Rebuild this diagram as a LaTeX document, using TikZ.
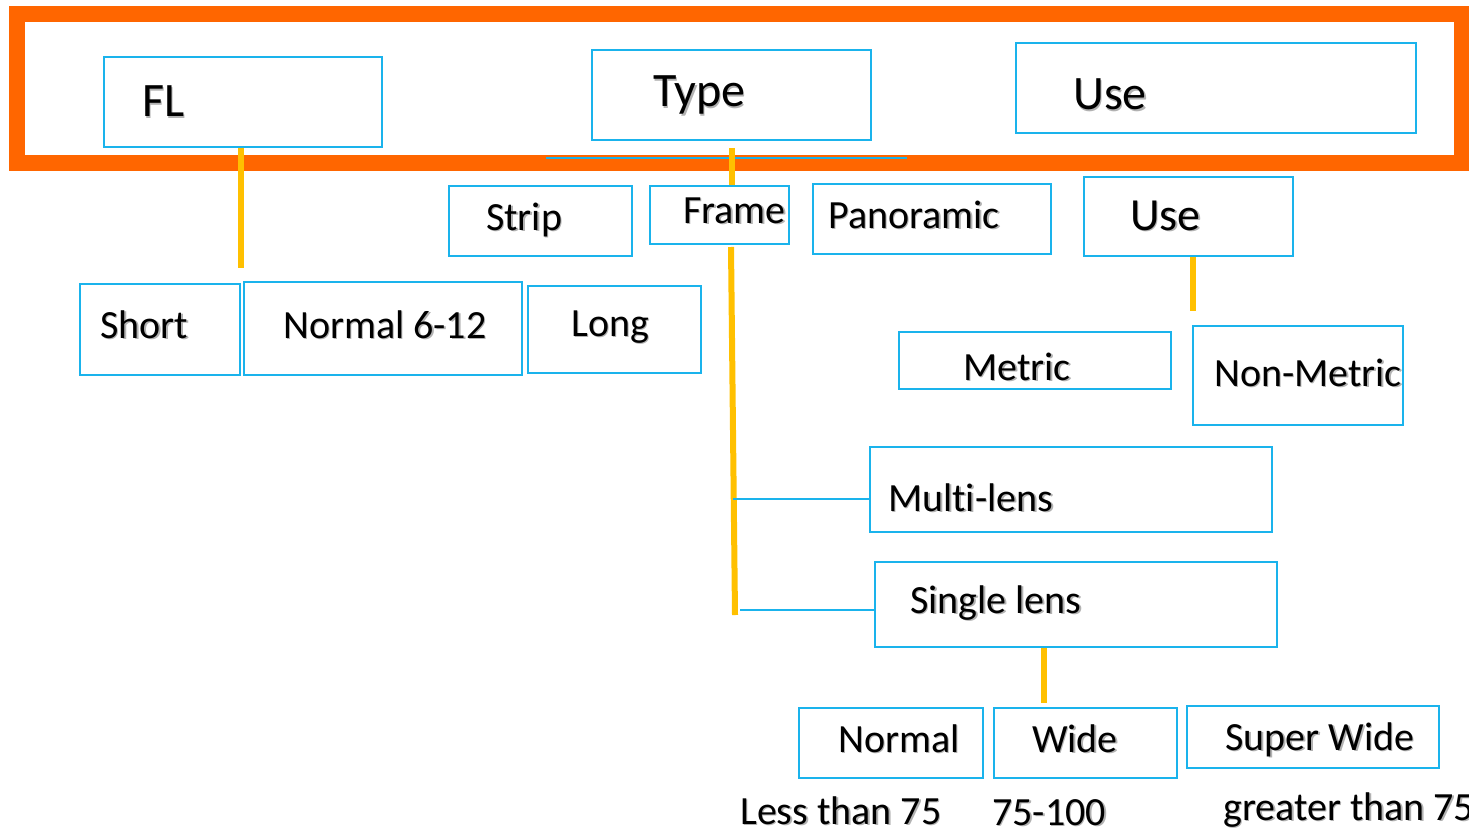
\documentclass[tikz,border=0pt]{standalone}
\usepackage{fontspec}
\setmainfont[Ligatures=NoCommon]{Carlito}
\definecolor{boxblue}{HTML}{1AB3EC}
\definecolor{frameorange}{HTML}{FF6600}
\definecolor{lineyellow}{HTML}{FFC000}
\newcommand\shd[1]{\leavevmode\rlap{\kern1.6pt\raisebox{-1.6pt}{\textcolor{black!30}{#1}}}#1}
\tikzset{
  box/.style={draw=boxblue, line width=2pt, inner sep=0pt},
  txt/.style={anchor=base west, inner sep=0pt, font=\fontsize{40}{40}\selectfont},
  bigtxt/.style={txt, font=\fontsize{48}{48}\selectfont},
  yline/.style={draw=lineyellow, line width=6pt},
  bline/.style={draw=boxblue, line width=2pt},
}
\newcommand\bx[5]{\node[box, minimum width=#4-#2, minimum height=#5-#3] (#1) at ({(#2+#4)/2},{(#3+#5)/2}) {};}
\begin{document}
\begin{tikzpicture}[x=1pt,y=-1pt]
\useasboundingbox (0,0) rectangle (1469,829);
% orange frame
\draw[frameorange, line width=16pt] (16.5,14) rectangle (1461.5,163);
% top boxes
\bx{fl}{104}{57}{382}{147}
\bx{type}{592}{50}{871}{140}
\bx{use}{1016}{43}{1416}{133}
\coordinate (tl1) at (546,158);
\coordinate (tl2) at (907,158);
\draw[bline] (tl1) -- (tl2);
% second row
\bx{strip}{449}{186}{632}{256}
\bx{frame}{650}{186}{789}{244}
\bx{pano}{813}{184}{1051}{254}
\bx{usetwo}{1084}{177}{1293}{256}
% third row
\bx{short}{80}{284}{240}{375}
\bx{normal}{244}{282}{522}{375}
\bx{long}{528}{286}{701}{373}
\bx{metric}{899}{332}{1171}{389}
\bx{nonmetric}{1193}{326}{1403}{425}
% lens
\bx{multi}{870}{447}{1272}{532}
\bx{single}{875}{562}{1277}{647}
% bottom
\bx{bnormal}{799}{708}{983}{778}
\bx{wide}{994}{708}{1177}{778}
\bx{superwide}{1187}{706}{1439}{768}
% connectors
\coordinate (flend) at (241,268);
\draw[yline] (fl.south -| flend) -- (flend);
\coordinate (typetop) at (732,148);
\draw[yline] (typetop) -- (typetop |- frame.north);
\coordinate (usetwoend) at (1193,311);
\draw[yline] (usetwo.south -| usetwoend) -- (usetwoend);
\coordinate (ftop) at (731,247);
\coordinate (fbot) at (735,615);
\draw[yline] (ftop) -- (fbot);
\coordinate (mj) at (733,499);
\draw[bline] (mj) -- (mj -| multi.west);
\coordinate (sj) at (740,610);
\draw[bline] (sj) -- (sj -| single.west);
\coordinate (wtop) at (1044,703);
\draw[yline] (single.south -| wtop) -- (wtop);
% texts
\node[bigtxt] (tfl) at (142,117) {\shd{FL}};
\node[bigtxt] (ttype) at (653,107) {\shd{Type}};
\node[bigtxt] (tuse) at (1073,110) {\shd{Use}};
\node[txt] (tstrip) at (486,230) {\shd{Strip}};
\node[txt] (tframe) at (683,223) {\shd{Frame}};
\node[txt] (tpano) at (828,228) {\shd{Panoramic}};
\node[bigtxt, font=\fontsize{46}{46}\selectfont] (tusetwo) at (1130,230) {\shd{Use}};
\node[txt] (tshort) at (100,338) {\shd{Short}};
\node[txt] (tnormal) at (283,338) {\shd{Normal 6-12}};
\node[txt] (tlong) at (571,336) {\shd{Long}};
\node[txt] (tmetric) at (963,380) {\shd{Metric}};
\node[txt] (tnonmetric) at (1214,386) {\shd{Non-Metric}};
\node[txt] (tmulti) at (888,511) {\shd{Multi-lens}};
\node[txt] (tsingle) at (910,613) {\shd{Single lens}};
\node[txt] (tbnormal) at (838,752) {\shd{Normal}};
\node[txt] (twide) at (1032,752) {\shd{Wide}};
\node[txt] (tsuper) at (1225,750) {\shd{Super Wide}};
\node[txt] (tless) at (740,824) {\shd{Less than 75}};
\node[txt] (trange) at (992,825) {\shd{75-100}};
\node[txt] (tgreater) at (1223,820) {\shd{greater than 75}};
\end{tikzpicture}
\end{document}
